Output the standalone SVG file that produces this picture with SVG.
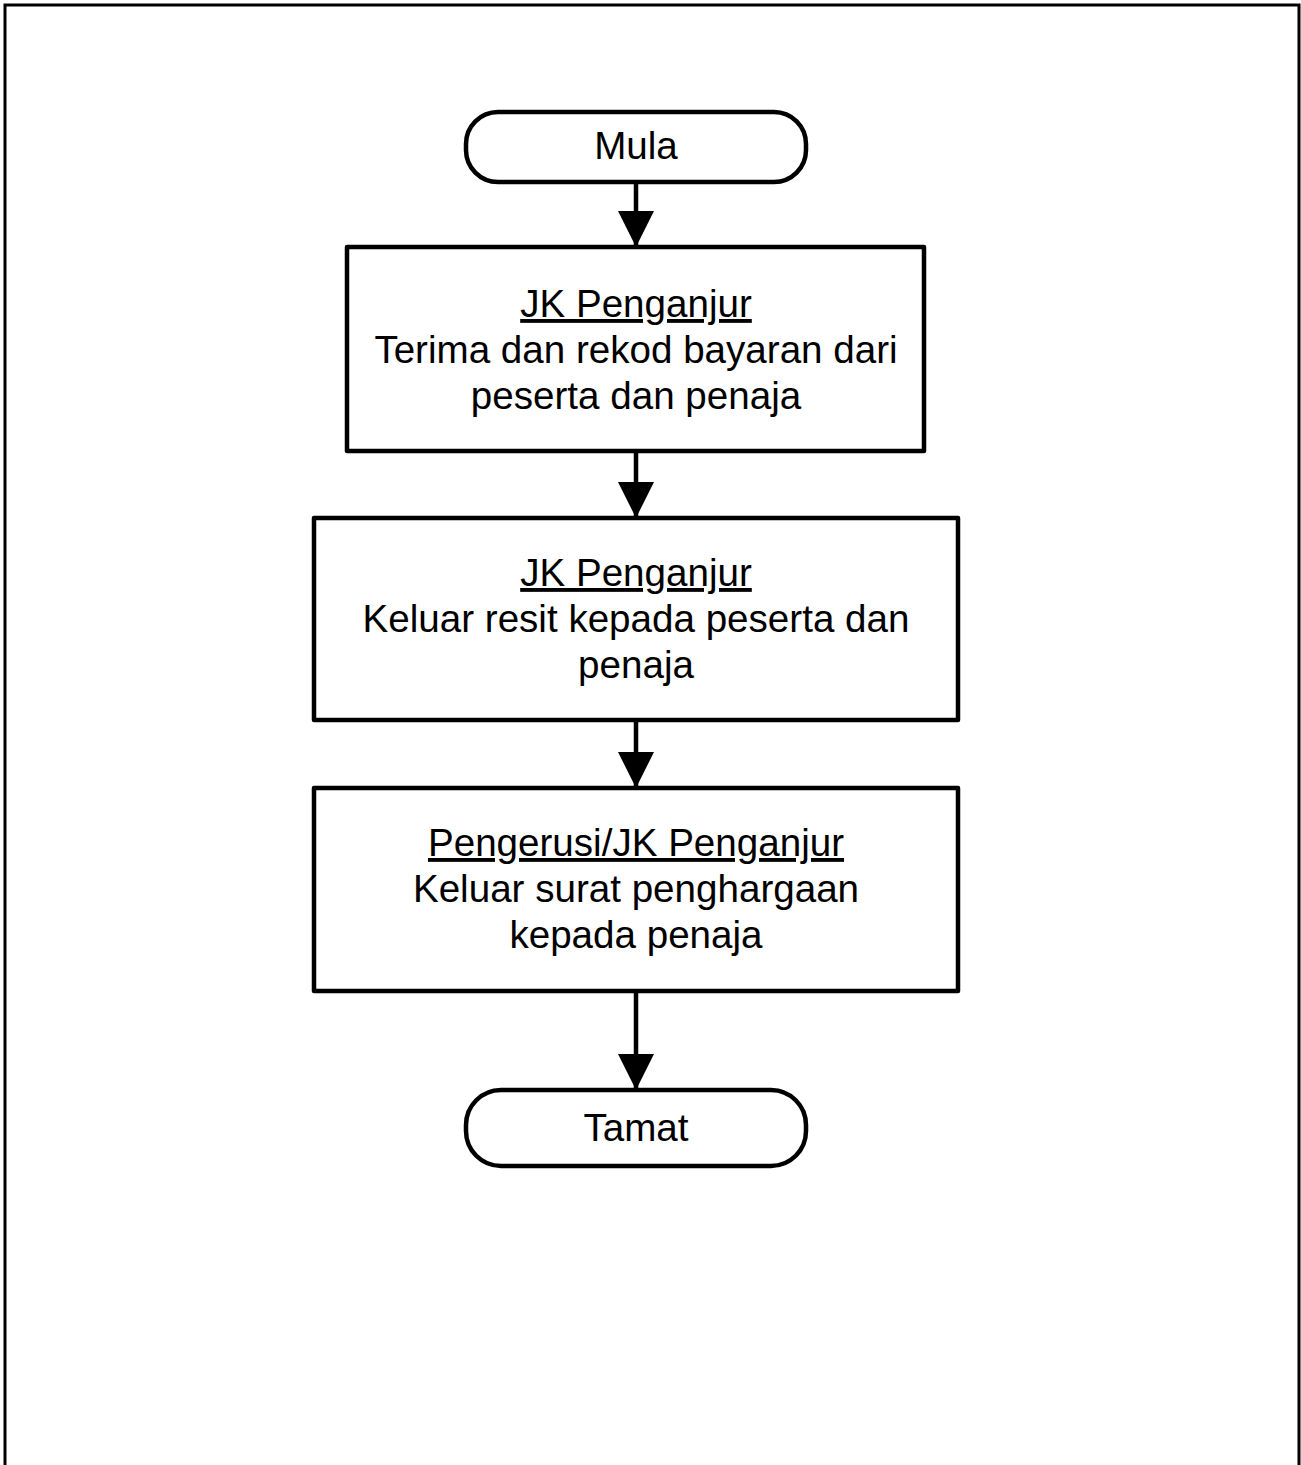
<svg xmlns="http://www.w3.org/2000/svg" width="1301" height="1465" viewBox="0 0 1301 1465">
<style>
.shape{fill:#fff;stroke:#000;stroke-width:4.5;stroke-linejoin:round}
.conn{stroke:#000;stroke-width:4.5;fill:none}
.t{font-family:"Liberation Sans",Arial,sans-serif;font-size:38.6px;fill:#000;text-anchor:middle}
.u{text-decoration:underline}
</style>
<defs>
<marker id="ah" markerUnits="userSpaceOnUse" markerWidth="36" markerHeight="36" viewBox="0 0 36 36" refX="36" refY="18" orient="auto">
<path d="M0,0 L36,18 L0,36 Z" fill="#000"/>
</marker>
</defs>
<rect x="5" y="5" width="1294" height="1500" fill="#fff" stroke="#000" stroke-width="3"/>
<g id="connectors">
<line class="conn" x1="636" y1="182" x2="636" y2="247" marker-end="url(#ah)"/>
<line class="conn" x1="636" y1="451" x2="636" y2="518" marker-end="url(#ah)"/>
<line class="conn" x1="636" y1="720" x2="636" y2="788" marker-end="url(#ah)"/>
<line class="conn" x1="636" y1="991" x2="636" y2="1090" marker-end="url(#ah)"/>
</g>
<g id="mula">
<rect class="shape" x="466" y="112" width="340" height="70" rx="32" ry="32"/>
<text class="t" x="636" y="159">Mula</text>
</g>
<g id="step1">
<rect class="shape" x="347" y="247" width="577" height="204"/>
<text class="t u" x="636" y="317">JK Penganjur</text>
<text class="t" x="636" y="363">Terima dan rekod bayaran dari</text>
<text class="t" x="636" y="409">peserta dan penaja</text>
</g>
<g id="step2">
<rect class="shape" x="314" y="518" width="644" height="202"/>
<text class="t u" x="636" y="586">JK Penganjur</text>
<text class="t" x="636" y="632">Keluar resit kepada peserta dan</text>
<text class="t" x="636" y="678">penaja</text>
</g>
<g id="step3">
<rect class="shape" x="314" y="788" width="644" height="203"/>
<text class="t u" x="636" y="856">Pengerusi/JK Penganjur</text>
<text class="t" x="636" y="902">Keluar surat penghargaan</text>
<text class="t" x="636" y="948">kepada penaja</text>
</g>
<g id="tamat">
<rect class="shape" x="466" y="1090" width="340" height="76" rx="35" ry="35"/>
<text class="t" x="636" y="1141">Tamat</text>
</g>
</svg>
